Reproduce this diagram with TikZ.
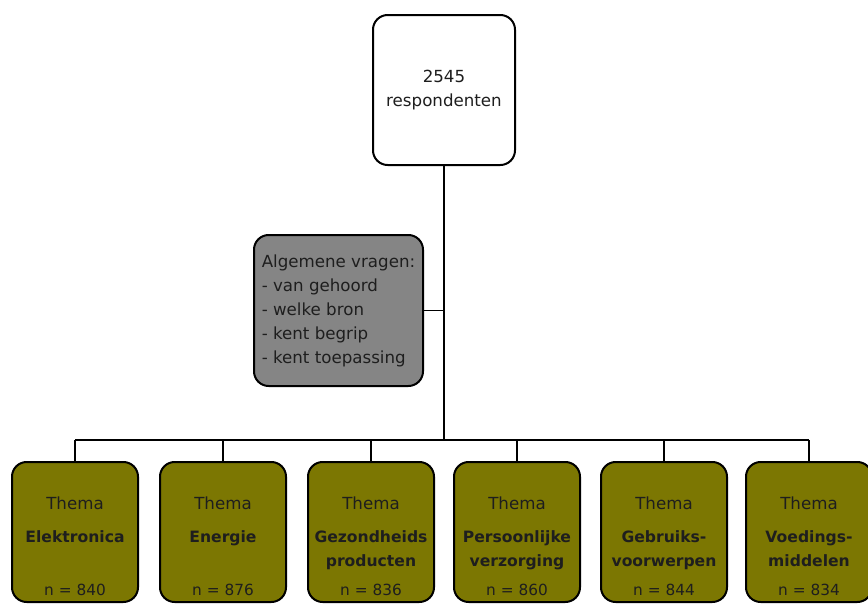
\documentclass[tikz,border=0pt]{standalone}
\usepackage{fontspec}
\setmainfont{DejaVu Sans}
\usepackage{tikz}
\definecolor{olive3}{HTML}{7C7702}
\definecolor{gray3}{HTML}{858585}
\definecolor{ink3}{HTML}{1E1E1E}

\begin{document}
\begin{tikzpicture}[x=0.75pt, y=-0.75pt, every node/.style={font=\fontsize{11.5}{13}\selectfont, text=ink3},
    box/.style={draw=black, line width=1.5pt, rounded corners=11pt, inner sep=0pt},
    topbox/.style={box, fill=white, minimum width=106.5pt, minimum height=112.5pt},
    graybox/.style={box, fill=gray3, minimum width=126.75pt, minimum height=113.25pt},
    themebox/.style={box, fill=olive3, minimum width=94.5pt, minimum height=105pt},
    link/.style={draw=black, line width=1.1pt}]

    \useasboundingbox (0,0) rectangle (868,604);

    % Top box with the respondents
    \node[topbox, align=center, font=\fontsize{12.5}{18.5}\selectfont] (top) at (444,90) {2545\\respondenten};

    % General questions
    \node[graybox, align=left, font=\fontsize{12.5}{18}\selectfont] (gray) at (338.5,310.5)
        {Algemene vragen:\\- van gehoord\\- welke bron\\- kent begrip\\- kent toepassing};

    % Line for the bar of the tree
    \coordinate (bar) at (444,440);

    % Theme boxes
    \foreach \x/\nm/\lbl/\n in {75/elek/Elektronica/840, 223/ener/Energie/876,
        371/gezo/{Gezondheids\\producten}/836, 517/pers/{Persoonlijke\\verzorging}/860,
        664/gebr/{Gebruiks-\\voorwerpen}/844, 809/voed/{Voedings-\\middelen}/834} {
        \node[themebox] (\nm) at (\x,532) {};
        \node[font=\fontsize{12.5}{15}\selectfont] at (\x,503) {Thema};
        \node[anchor=north, align=center, font=\bfseries\fontsize{11.7}{18}\selectfont] at (\x,526) {\lbl};
        \node at (\x,590) {n = \n};
        \draw[link] (\nm |- bar) -- (\nm.north);
    }

    % Connectors
    \draw[link] (top.south) -- (top |- bar);
    \draw[link] (gray.east) -- (gray.east -| top);
    \draw[link] (elek |- bar) -- (voed |- bar);

\end{tikzpicture}
\end{document}
